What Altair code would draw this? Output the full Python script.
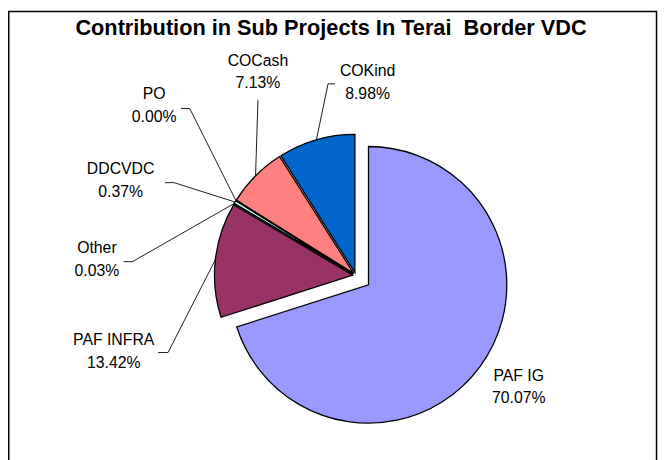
import math
import altair as alt
import pandas as pd

# ---------------- data ----------------
labels = ["PAF IG", "PAF INFRA", "Other", "DDCVDC", "PO", "COCash", "COKind"]
shares = [70.07, 13.42, 0.03, 0.37, 0.00, 7.13, 8.98]
colors = ["#9999FF", "#993366", "#FFFFCC", "#CCFFFF", "#660066", "#FF8080", "#0066CC"]
title_text = "Contribution in Sub Projects In Terai\u00a0 Border VDC"

# ---------------- layout (page pixels) ----------------
M = 8                      # page margin
W, H = 658, 452
CX, CY = 360 - M, 276 - M  # pie centre
R = 140
EXPLODE_MAIN = 16
EXPLODE_OTHER = 3
FONT = "Liberation Sans"
LINE_H = 23

# label centres (page coords, centre of the two-line block)
label_pos = {
    "PAF IG": (525, 389),
    "PAF INFRA": (115, 353),
    "Other": (98, 260),
    "DDCVDC": (122, 180),
    "PO": (156, 104),
    "COCash": (261, 70),
    "COKind": (372, 81),
}
# leader line: stub end, elbow (page coords); slice edge point is computed
leader_pts = {
    "PAF INFRA": [(160, 354), (170, 354)],
    "Other": [(125, 262), (134, 262)],
    "DDCVDC": [(167, 182), (176, 182)],
    "PO": [(183, 107), (192, 107)],
    "COCash": [(261, 98), (261, 99)],
    "COKind": [(339, 82), (332, 82)],
}

total = sum(shares)
rows = []
start = 0.0
for i, (lab, v) in enumerate(zip(labels, shares)):
    end = start + v
    mid = (start + v / 2) / total * 2 * math.pi
    e = EXPLODE_MAIN if lab == "PAF IG" else EXPLODE_OTHER
    cx = CX + e * math.sin(mid)
    cy = CY - e * math.cos(mid)
    rows.append(dict(idx=i, label=lab, share=v, start=start, end=end, cx=cx, cy=cy,
                     mid=mid, txt=f"{lab}\n{v:.2f}%"))
    start = end
df = pd.DataFrame(rows)

# label table (first line centre)
df["lx"] = [label_pos[l][0] - M for l in df["label"]]
df["ly"] = [label_pos[l][1] - M - LINE_H / 2 for l in df["label"]]

# leader lines
line_rows = []
for r in rows:
    if r["label"] not in leader_pts:
        continue
    pts = [(p[0] - M, p[1] - M) for p in leader_pts[r["label"]]]
    ex = r["cx"] + R * math.sin(r["mid"])
    ey = r["cy"] - R * math.cos(r["mid"])
    pts.append((ex, ey))
    for k, (px, py) in enumerate(pts):
        line_rows.append(dict(label=r["label"], k=k, px=px, py=py))
lines_df = pd.DataFrame(line_rows)

xs = lambda f: alt.X(f, scale=None, axis=None)
ys = lambda f: alt.Y(f, scale=None, axis=None)

frame = alt.Chart(pd.DataFrame({"a": [0]})).mark_rect(
    fillOpacity=0, stroke="black", strokeWidth=1.5
).encode(x=alt.value(0.75), x2=alt.value(656.5), y=alt.value(0.75), y2=alt.value(520))

pie = alt.Chart(df).mark_arc(radius=R, stroke="black", strokeWidth=1.3).encode(
    x=xs("cx:Q"),
    y=ys("cy:Q"),
    theta=alt.Theta("start:Q", scale=alt.Scale(domain=[0, total], range=[0, 2 * math.pi], nice=False)),
    theta2="end:Q",
    color=alt.Color("label:N", scale=alt.Scale(domain=labels, range=colors), legend=None),
    order=alt.Order("idx:Q"),
)

leaders = alt.Chart(lines_df).mark_line(color="black", strokeWidth=0.9).encode(
    x=xs("px:Q"), y=ys("py:Q"), detail="label:N", order="k:Q"
)

texts = alt.Chart(df).mark_text(
    font=FONT, fontSize=16, lineBreak="\n", lineHeight=LINE_H, align="center",
    baseline="middle", color="black"
).encode(x=xs("lx:Q"), y=ys("ly:Q"), text="txt:N")

title = alt.Chart(pd.DataFrame({"t": [title_text]})).mark_text(
    font=FONT, fontSize=22, fontWeight="bold", align="center", baseline="middle", color="black"
).encode(x=alt.value(335 - M), y=alt.value(26 - M), text="t:N")

chart = alt.layer(frame, pie, leaders, texts, title).properties(
    width=W, height=H, padding=0, autosize="none", background="white"
).configure_view(strokeWidth=0)

chart.save("out.html", embed_options={"renderer": "svg", "actions": False})
